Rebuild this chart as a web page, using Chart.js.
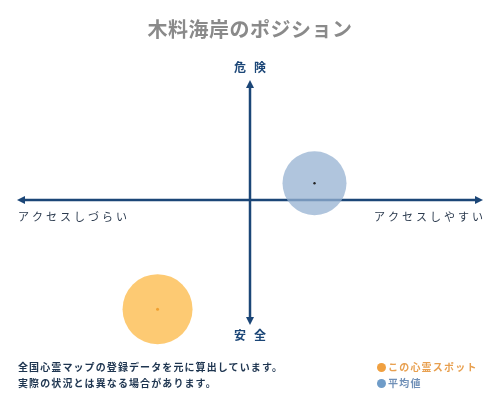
<!DOCTYPE html>
<html><head><meta charset="utf-8">
<script src="https://cdn.jsdelivr.net/npm/chart.js@4"></script>
<style>
html,body{margin:0;padding:0;background:#fff;}
#wrap{position:relative;width:500px;height:400px;font-family:"Noto Sans CJK JP","Noto Sans",sans-serif;}
canvas{position:absolute;left:0;top:0;}
.t{position:absolute;white-space:nowrap;font-weight:bold;line-height:1;}
</style></head><body>
<div id="wrap">
<canvas id="c" width="500" height="400"></canvas>
<div class="t" style="left:0;width:500px;text-align:center;top:19px;font-size:20px;color:#8a8a8a;letter-spacing:0.5px;">木料海岸のポジション</div>
<div class="t" style="left:18px;top:362px;font-size:10px;color:#1e3550;letter-spacing:1.1px;">全国心霊マップの登録データを元に算出しています。</div>
<div class="t" style="left:18px;top:378px;font-size:10px;color:#1e3550;letter-spacing:1.1px;">実際の状況とは異なる場合があります。</div>
<div class="t" style="left:377px;top:362px;font-size:10px;color:#e8a050;letter-spacing:1.2px;"><span style="display:inline-block;width:9px;height:9px;border-radius:50%;background:#f0a040;margin-right:2px;vertical-align:-1px;"></span>この心霊スポット</div>
<div class="t" style="left:377px;top:378px;font-size:10px;color:#7090b8;letter-spacing:1.2px;"><span style="display:inline-block;width:9px;height:9px;border-radius:50%;background:#6f9cc8;margin-right:2px;vertical-align:-1px;"></span>平均値</div>
</div>
<script>
const seriesNames = ["この心霊スポット", "平均値"];
const accessValues = [-4.3, 3.0];   // x: アクセスしづらい(-) .. アクセスしやすい(+)
const dangerValues = [-9.1, 1.4];   // y: 安全(-) .. 危険(+)
const spreadValues = [35, 32];      // bubble radius
const axisLabels = {top:"危険", bottom:"安全", left:"アクセスしづらい", right:"アクセスしやすい"};

const AXIS = "#1b4677";
const AX_L = 17, AX_R = 483, AX_T = 80, AX_B = 325;
const arrowPlugin = {
  id:"arrows",
  beforeDatasetsDraw(chart){
    const ctx = chart.ctx, xs = chart.scales.x, ys = chart.scales.y;
    const x0 = xs.getPixelForValue(0), y0 = ys.getPixelForValue(0);
    const L = AX_L, R = AX_R, T = AX_T, B = AX_B;
    ctx.save();
    ctx.strokeStyle = AXIS; ctx.fillStyle = AXIS; ctx.lineWidth = 2.5;
    ctx.beginPath(); ctx.moveTo(L+4,y0); ctx.lineTo(R-4,y0); ctx.stroke();
    ctx.beginPath(); ctx.moveTo(x0,T+4); ctx.lineTo(x0,B-4); ctx.stroke();
    const tri=(a,b,c,d,e,f)=>{ctx.beginPath();ctx.moveTo(a,b);ctx.lineTo(c,d);ctx.lineTo(e,f);ctx.closePath();ctx.fill();};
    tri(L,y0, L+8,y0-4, L+8,y0+4);
    tri(R,y0, R-8,y0-4, R-8,y0+4);
    tri(x0,T, x0-4,T+8, x0+4,T+8);
    tri(x0,B, x0-4,B-8, x0+4,B-8);
    ctx.restore();
  },
  afterDraw(chart){
    const ctx = chart.ctx, xs = chart.scales.x, ys = chart.scales.y;
    const x0 = xs.getPixelForValue(0), y0 = ys.getPixelForValue(0);
    const L = AX_L, R = AX_R, T = AX_T, B = AX_B;
    ctx.save();
    ctx.fillStyle = AXIS;
    ctx.textBaseline = "middle";
    ctx.font = 'bold 12px "Noto Sans CJK JP"';
    ctx.letterSpacing = "8px";
    ctx.textAlign = "center";
    ctx.fillText(axisLabels.top, x0+4, T-13);
    ctx.fillText(axisLabels.bottom, x0+4, B+10);
    ctx.fillStyle = "#2b3a4e";
    ctx.font = '11px "Noto Sans CJK JP"';
    ctx.letterSpacing = "3px";
    ctx.textAlign = "left";
    ctx.fillText(axisLabels.left, L+1, y0+17);
    ctx.textAlign = "right";
    ctx.fillText(axisLabels.right, R+3, y0+17);
    ctx.restore();
  }
};

new Chart(document.getElementById("c"), {
  type:"bubble",
  data:{
    datasets:[
      {label:seriesNames[0], data:[{x:accessValues[0], y:dangerValues[0], r:spreadValues[0]}],
       backgroundColor:"rgba(253,196,100,0.9)", borderWidth:0, order:2, clip:false},
      {label:seriesNames[1], data:[{x:accessValues[1], y:dangerValues[1], r:spreadValues[1]}],
       backgroundColor:"rgba(150,178,210,0.75)", borderWidth:0, order:2, clip:false},
      {type:"scatter", label:seriesNames[0]+"中心", data:[{x:accessValues[0], y:dangerValues[0]}],
       pointRadius:1.5, backgroundColor:"#f0a030", borderWidth:0, order:1, clip:false},
      {type:"scatter", label:seriesNames[1]+"中心", data:[{x:accessValues[1], y:dangerValues[1]}],
       pointRadius:1.2, backgroundColor:"#222", borderWidth:0, order:1, clip:false}
    ]
  },
  options:{
    responsive:false, animation:false, devicePixelRatio:1,
    layout:{padding:{left:35, right:35, top:80, bottom:80}},
    scales:{
      x:{min:-10, max:10, display:false},
      y:{min:-10, max:10, display:false}
    },
    plugins:{legend:{display:false}, tooltip:{enabled:false}, title:{display:false}}
  },
  plugins:[arrowPlugin]
});
</script>
</body></html>
